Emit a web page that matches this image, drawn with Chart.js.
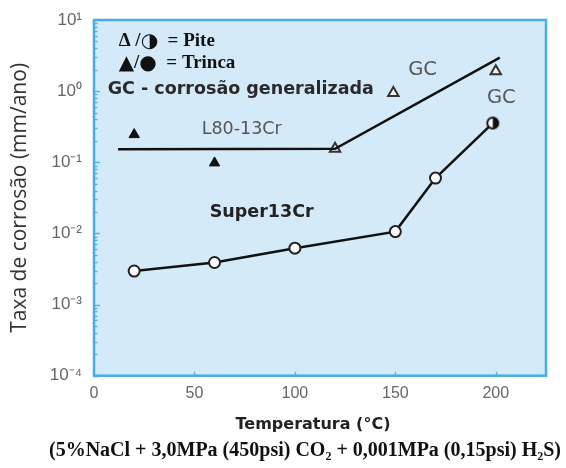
<!DOCTYPE html>
<html>
<head>
<meta charset="utf-8">
<script src="https://cdn.jsdelivr.net/npm/chart.js@4"></script>
<style>
  html, body { margin: 0; padding: 0; background: #fff; }
  canvas { display: block; }
</style>
</head>
<body>
<canvas id="corrosionChart" width="566" height="468"></canvas>
<script>
// values (temperature in °C, rate in mm/ano)
const l80LineTemp = [12, 120, 202];
const l80LineRate = [0.153, 0.155, 2.95];
const trincaTemp = [20, 60];
const trincaRate = [0.245, 0.098];
const piteTemp = [120, 149, 200];
const piteRate = [0.155, 0.94, 1.9];
const superTemp = [20, 60, 100, 150, 170, 198.5];
const superRate = [0.00296, 0.0039, 0.0062, 0.0106, 0.06, 0.356];
const xTickValues = [0, 50, 100, 150, 200];
const yDecades = [-4, -3, -2, -1, 0, 1];

const xTitle = 'Temperatura (°C)';
const yTitle = 'Taxa de corrosão (mm/ano)';
const caption = '(5%NaCl + 3,0MPa (450psi) CO\u2082 + 0,001MPa (0,15psi) H\u2082S)';

const serif = 'bold 19px "Liberation Serif"';
const symbol = '20px "DejaVu Sans"';

// text placed in data coordinates, split in parts where the font changes
const notes = [
    { x: 12.3, y: 5.0, color: '#111', parts: [['\u0394 /', serif], ['\u25D1', symbol], ['  = Pite', serif]] },
    { x: 12.3, y: 2.44, color: '#111', parts: [['\u25B2', symbol], ['/', serif], ['\u25CF', symbol], ['  = Trinca', serif]] },
    { x: 6.8, y: 1.05, color: '#2a2a2a', parts: [['GC - corrosão generalizada', 'bold 17.5px "DejaVu Sans"']] },
    { x: 53.6, y: 0.288, color: '#555', parts: [['L80-13Cr', '17.5px "DejaVu Sans"']] },
    { x: 156.4, y: 2.01, color: '#555', parts: [['GC', '19.5px "DejaVu Sans"']] },
    { x: 195.6, y: 0.81, color: '#555', parts: [['GC', '19.5px "DejaVu Sans"']] },
    { x: 57.6, y: 0.0195, color: '#222', parts: [['Super13Cr', 'bold 17.5px "DejaVu Sans"']] }
];

const toPoints = (xs, ys) => xs.map((x, i) => ({ x: x, y: ys[i] }));

const supMap = { '-': '\u207B', '0': '\u2070', '1': '\u00B9', '2': '\u00B2', '3': '\u00B3', '4': '\u2074' };
function powerLabel(e) {
    return '10' + String(e).split('').map(c => supMap[c]).join('');
}

// half filled circle marker for the last Super13Cr point
function halfDot() {
    const c = document.createElement('canvas');
    c.width = 15; c.height = 15;
    const g = c.getContext('2d');
    g.beginPath(); g.arc(7.5, 7.5, 5.5, 0, 2 * Math.PI);
    g.fillStyle = '#fff'; g.fill();
    g.beginPath(); g.arc(7.5, 7.5, 5.5, -Math.PI / 2, Math.PI / 2);
    g.fillStyle = '#111'; g.fill();
    g.beginPath(); g.arc(7.5, 7.5, 5.5, 0, 2 * Math.PI);
    g.lineWidth = 2; g.strokeStyle = '#111'; g.stroke();
    return c;
}

const framePlugin = {
    id: 'frame',
    beforeDatasetsDraw(chart) {
        const { ctx, chartArea: a, scales: { x, y } } = chart;
        ctx.save();
        ctx.fillStyle = '#d4eaf8';
        ctx.fillRect(a.left, a.top, a.width, a.height);

        ctx.strokeStyle = '#5ab4e8';
        ctx.lineWidth = 1.3;
        ctx.beginPath();
        yDecades.slice(0, -1).forEach(e => {
            for (let m = 1; m <= 9; m++) {
                const py = Math.round(y.getPixelForValue(m * Math.pow(10, e))) + 0.5;
                const len = m === 1 ? 6 : 3.5;
                ctx.moveTo(a.left, py);
                ctx.lineTo(a.left + len, py);
            }
        });
        xTickValues.slice(1).forEach(v => {
            const px = Math.round(x.getPixelForValue(v)) + 0.5;
            ctx.moveTo(px, a.bottom);
            ctx.lineTo(px, a.bottom - 4);
        });
        ctx.stroke();

        ctx.strokeStyle = '#45aee6';
        ctx.lineWidth = 2.5;
        ctx.strokeRect(a.left, a.top, a.width, a.height);
        ctx.restore();
    },
    afterDatasetsDraw(chart) {
        const { ctx, scales: { x, y } } = chart;
        ctx.save();
        ctx.textAlign = 'left';
        ctx.textBaseline = 'middle';
        notes.forEach(n => {
            let px = x.getPixelForValue(n.x);
            const py = y.getPixelForValue(n.y);
            ctx.fillStyle = n.color;
            n.parts.forEach(([text, font]) => {
                ctx.font = font;
                ctx.fillText(text, px, py);
                px += ctx.measureText(text).width;
            });
        });

        // x axis title and test-condition caption under the axis
        const a = chart.chartArea;
        ctx.textAlign = 'center';
        ctx.fillStyle = '#222';
        ctx.font = 'bold 16px "DejaVu Sans"';
        ctx.fillText(xTitle, 313, a.bottom + 49);
        ctx.fillStyle = '#111';
        ctx.font = 'bold 20px "Liberation Serif"';
        ctx.fillText(caption, 305, a.bottom + 75);
        ctx.restore();
    }
};

const ctx = document.getElementById('corrosionChart').getContext('2d');
new Chart(ctx, {
    type: 'line',
    data: {
        datasets: [
            {
                data: toPoints(l80LineTemp, l80LineRate),
                borderColor: '#111',
                borderWidth: 2.5,
                pointRadius: 0,
                fill: false
            },
            {
                data: toPoints(trincaTemp, trincaRate),
                showLine: false,
                pointStyle: 'triangle',
                pointRadius: 6,
                backgroundColor: '#111',
                borderColor: '#111',
                borderWidth: 1
            },
            {
                data: toPoints(piteTemp, piteRate),
                showLine: false,
                pointStyle: 'triangle',
                pointRadius: 6,
                backgroundColor: '#eef3f6',
                borderColor: '#333',
                borderWidth: 2
            },
            {
                data: toPoints(superTemp, superRate),
                borderColor: '#111',
                borderWidth: 2.5,
                pointStyle: superTemp.map((t, i) => i === superTemp.length - 1 ? halfDot() : 'circle'),
                pointRadius: 5.5,
                pointBackgroundColor: '#fff',
                pointBorderColor: '#222',
                pointBorderWidth: 2,
                fill: false
            }
        ]
    },
    options: {
        responsive: false,
        animation: false,
        devicePixelRatio: 1,
        layout: { padding: { left: 0, right: 20, top: 20, bottom: 0 } },
        plugins: {
            legend: { display: false },
            tooltip: { enabled: false }
        },
        scales: {
            x: {
                type: 'linear',
                min: 0,
                max: 225,
                grid: { display: false },
                border: { display: false },
                ticks: {
                    stepSize: 50,
                    includeBounds: false,
                    maxRotation: 0,
                    padding: 0,
                    color: '#666',
                    font: { family: '"Liberation Sans"', size: 16 }
                },
                afterFit(scale) { scale.height = 92.3; }
            },
            y: {
                type: 'logarithmic',
                min: 1e-4,
                max: 10,
                grid: { display: false },
                border: { display: false },
                ticks: {
                    autoSkip: false,
                    padding: 4,
                    color: '#666',
                    font: { family: '"Liberation Sans"', size: 17 },
                    callback: function(value) {
                        const e = Math.log10(value);
                        return Math.abs(e - Math.round(e)) < 1e-9 ? powerLabel(Math.round(e)) : '';
                    }
                },
                title: {
                    display: true,
                    text: yTitle,
                    color: '#333',
                    font: { family: '"Open Sans"', size: 21, lineHeight: 1.2 },
                    padding: { top: 7, bottom: 0 }
                },
                afterFit(scale) { scale.width = 94; }
            }
        }
    },
    plugins: [framePlugin]
});
</script>
</body>
</html>
